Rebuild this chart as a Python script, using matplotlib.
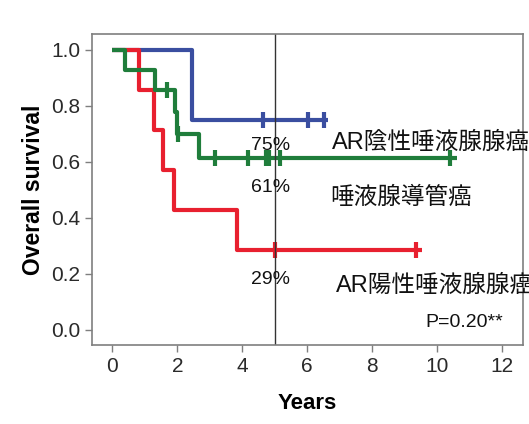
import matplotlib
matplotlib.use('Agg')
import matplotlib.pyplot as plt
import numpy as np

# Kaplan-Meier steps
blue_t = [0, 2.45]
blue_s = [1.0, 0.75]
blue_end = 6.65
blue_cens = [4.65, 6.01, 6.53]

red_t = [0, 0.83, 1.29, 1.55, 1.88, 3.84]
red_s = [1.0, 0.857, 0.714, 0.571, 0.429, 0.286]
red_end = 9.53
red_cens = [5.0, 9.36]

green_t = [0, 0.39, 1.32, 1.93, 1.98, 2.65]
green_s = [1.0, 0.929, 0.857, 0.779, 0.701, 0.614]
green_end = 10.6
green_cens = [1.68, 2.02, 3.17, 4.17, 4.72, 4.82, 5.17, 10.4]

pct_labels = ['75%', '61%', '29%']
pct_y = [0.66, 0.507, 0.179]
group_labels = ['AR陰性唾液腺腺癌', '唾液腺導管癌', 'AR陽性唾液腺腺癌']
group_x = [6.77, 6.71, 6.87]
group_y = [0.668, 0.471, 0.157]

xticks = [0, 2, 4, 6, 8, 10, 12]
yticks = [0.0, 0.2, 0.4, 0.6, 0.8, 1.0]

my_dpi = 100
fig = plt.figure(figsize=(529 / my_dpi, 424 / my_dpi), dpi=my_dpi)
ax = fig.add_axes([0.174, 0.186, 0.815, 0.734])

def km(ax, t, s, end, cens, color):
    tt = list(t) + [end]
    ss = list(s) + [s[-1]]
    ax.step(tt, ss, where='post', color=color, linewidth=3, solid_capstyle='butt')
    idx = np.searchsorted(t, cens, side='right') - 1
    cy = np.array(s)[idx]
    ax.plot(cens, cy, linestyle='none', marker='|', markersize=11,
            markeredgewidth=3, color=color)

km(ax, blue_t, blue_s, blue_end, blue_cens, '#3a4ea0')
km(ax, red_t, red_s, red_end, red_cens, '#e8202f')
km(ax, green_t, green_s, green_end, green_cens, '#1f7d3b')

ax.axvline(5, color='#333333', linewidth=1)

ax.set_xlim(-0.63, 12.65)
ax.set_ylim(-0.055, 1.057)
ax.set_xticks(xticks)
ax.set_yticks(yticks)
ax.set_yticklabels(['%.1f' % v for v in yticks])

for sp in ax.spines.values():
    sp.set_color('#7f7f7f')
    sp.set_linewidth(1.2)
ax.tick_params(direction='out', length=5, width=1, color='#7f7f7f',
               labelsize=15, labelcolor='#2a2a2a')
for lab in ax.get_xticklabels() + ax.get_yticklabels():
    lab.set_family('Liberation Sans')

ax.set_xlabel('Years', fontsize=16, fontweight='bold', family='Liberation Sans', labelpad=12)
ax.set_ylabel('Overall survival', fontsize=16.5, fontweight='bold', family='Liberation Sans', labelpad=4)

for lab, y in zip(pct_labels, pct_y):
    ax.text(4.86, y, lab, fontsize=14, ha='center', va='center',
            family='Liberation Sans', color='#111111')

for lab, x, y in zip(group_labels, group_x, group_y):
    ax.text(x, y, lab, fontsize=17, ha='left', va='center', clip_on=False,
            family=['Liberation Sans', 'Noto Sans CJK JP'], color='#111111')

ax.text(9.63, 0.025, 'P=0.20**', fontsize=14, ha='left', va='center',
        family='Liberation Sans', color='#111111')

fig.savefig('out.png', dpi=my_dpi)
